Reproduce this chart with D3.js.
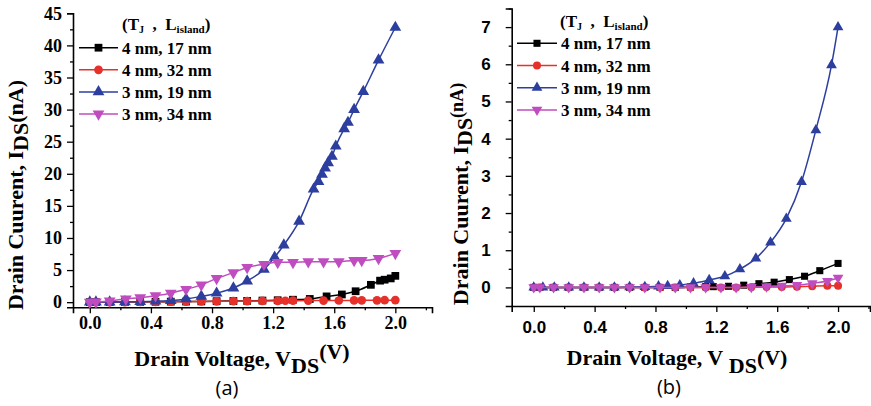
<!DOCTYPE html>
<html>
<head>
<meta charset="utf-8">
<script src="https://d3js.org/d3.v7.min.js"></script>
<style>
    body { margin: 0; background: #fff; }
    svg { display: block; }
    .serif { font-family: "Liberation Serif", "Times New Roman", serif; font-weight: bold; }
    .sans { font-family: "Liberation Sans", Arial, sans-serif; font-weight: bold; }
    .panel-label { font-family: "Open Sans", "Noto Sans", sans-serif; font-size: 20px; }
</style>
</head>
<body>
<svg id="chart" width="871" height="406"></svg>
<script>
// legend / series info
const seriesNames = ['4 nm, 17 nm', '4 nm, 32 nm', '3 nm, 19 nm', '3 nm, 34 nm'];
const seriesColors = ['#000000', '#e6302a', '#2d3f9e', '#bf4dbf'];
const seriesSymbols = ['square', 'circle', 'triangle', 'triangleDown'];

// panel (a) data, V in volts, I in nA
const aBlackX = [0, 0.04, 0.13, 0.23, 0.33, 0.43, 0.53, 0.63, 0.73, 0.83, 0.94, 1.03, 1.13, 1.23, 1.33, 1.44, 1.55, 1.65, 1.74, 1.84, 1.90, 1.93, 1.97, 2.0];
const aBlackY = [0, 0, 0.02, 0.03, 0.05, 0.06, 0.08, 0.1, 0.12, 0.15, 0.18, 0.2, 0.25, 0.3, 0.38, 0.5, 0.9, 1.2, 1.7, 2.7, 3.35, 3.5, 3.7, 4.1];
const aRedX = [0, 0.04, 0.13, 0.23, 0.33, 0.43, 0.53, 0.63, 0.73, 0.83, 0.94, 1.03, 1.13, 1.23, 1.28, 1.33, 1.43, 1.53, 1.63, 1.73, 1.78, 1.88, 1.93, 2.0];
const aRedY = [0, 0, 0.01, 0.02, 0.03, 0.05, 0.07, 0.09, 0.11, 0.13, 0.15, 0.17, 0.19, 0.21, 0.22, 0.23, 0.24, 0.25, 0.26, 0.27, 0.28, 0.29, 0.3, 0.32];
const aBlueX = [0, 0.04, 0.13, 0.23, 0.33, 0.43, 0.53, 0.63, 0.73, 0.83, 0.94, 1.03, 1.14, 1.21, 1.27, 1.37, 1.465, 1.497, 1.52, 1.54, 1.56, 1.585, 1.61, 1.665, 1.69, 1.73, 1.79, 1.89, 2.0];
const aBlueY = [0, 0, 0.02, 0.05, 0.08, 0.15, 0.25, 0.5, 0.9, 1.4, 2.2, 3.3, 5.1, 7.0, 8.9, 12.6, 17.6, 18.8, 19.9, 20.9, 21.7, 22.7, 24.3, 27.0, 28.0, 30.0, 32.8, 37.7, 42.8];
const aMagX = [0, 0.04, 0.13, 0.236, 0.33, 0.43, 0.53, 0.63, 0.73, 0.83, 0.94, 1.03, 1.14, 1.23, 1.33, 1.43, 1.53, 1.63, 1.73, 1.78, 1.89, 2.0];
const aMagY = [0, 0.05, 0.2, 0.5, 0.7, 1.0, 1.4, 2.0, 2.7, 3.7, 4.6, 5.4, 5.9, 6.2, 6.2, 6.3, 6.3, 6.3, 6.5, 6.5, 6.8, 7.6];

// panel (b) data
const bBlackX = [0, 0.04, 0.13, 0.23, 0.33, 0.43, 0.53, 0.63, 0.73, 0.83, 0.93, 1.03, 1.13, 1.18, 1.28, 1.38, 1.48, 1.58, 1.68, 1.78, 1.88, 2.0];
const bBlackY = [0, 0, 0, 0, 0, 0, 0, 0, 0, 0, 0, 0.01, 0.02, 0.02, 0.03, 0.06, 0.10, 0.14, 0.21, 0.30, 0.45, 0.645];
const bRedX = [0, 0.04, 0.13, 0.23, 0.33, 0.43, 0.53, 0.63, 0.73, 0.83, 0.93, 1.03, 1.13, 1.23, 1.33, 1.43, 1.53, 1.63, 1.73, 1.83, 1.93, 2.0];
const bRedY = [0, 0, 0, 0, 0, 0, 0, 0, 0, 0, 0, 0, 0, 0, 0, 0.005, 0.01, 0.01, 0.02, 0.03, 0.045, 0.045];
const bBlueX = [0, 0.06, 0.135, 0.23, 0.33, 0.43, 0.53, 0.63, 0.73, 0.82, 0.88, 0.96, 1.05, 1.153, 1.256, 1.355, 1.46, 1.556, 1.66, 1.76, 1.854, 1.957, 2.0];
const bBlueY = [0, 0, 0, 0, 0, 0, 0, 0.01, 0.015, 0.03, 0.04, 0.06, 0.11, 0.20, 0.30, 0.49, 0.78, 1.21, 1.85, 2.84, 4.23, 5.98, 7.0];
const bMagX = [0, 0.04, 0.13, 0.23, 0.33, 0.43, 0.53, 0.63, 0.73, 0.83, 0.93, 1.03, 1.13, 1.23, 1.33, 1.43, 1.53, 1.63, 1.73, 1.83, 1.93, 2.0];
const bMagY = [0, 0, 0, 0, 0, 0, 0, 0, 0, 0, 0, 0, 0, 0, 0, 0.01, 0.02, 0.04, 0.06, 0.11, 0.17, 0.26];

// ticks
const xMajor = [0, 0.4, 0.8, 1.2, 1.6, 2.0];
const xMinor = [0.2, 0.6, 1.0, 1.4, 1.8, 2.2];
const aYMajor = [0, 5, 10, 15, 20, 25, 30, 35, 40, 45];
const aYMinor = [2.5, 7.5, 12.5, 17.5, 22.5, 27.5, 32.5, 37.5, 42.5];
const bYMajor = [0, 1, 2, 3, 4, 5, 6, 7];
const bYMinor = [0.5, 1.5, 2.5, 3.5, 4.5, 5.5, 6.5, 7.5];

const fonts = {
    serif: '"Liberation Serif", "Times New Roman", serif',
    sans: '"Liberation Sans", Arial, sans-serif'
};

const svg = d3.select('#chart');

function zip(xs, ys) {
    return xs.map((x, i) => ({x: x, y: ys[i]}));
}

function symbolFor(name, size) {
    const type = name === 'square' ? d3.symbolSquare
        : name === 'circle' ? d3.symbolCircle
        : d3.symbolTriangle;
    return d3.symbol().type(type).size(size)();
}

function drawPanel(cfg) {
    const x = d3.scaleLinear().domain(cfg.xDomain).range(cfg.xRange);
    const y = d3.scaleLinear().domain(cfg.yDomain).range(cfg.yRange);
    const g = svg.append('g');

    // x axis
    g.append('g')
        .attr('transform', `translate(0,${cfg.yRange[0]})`)
        .call(d3.axisBottom(x).tickValues(xMajor).tickFormat(d3.format('.1f'))
            .tickSize(6).tickPadding(cfg.xPad));
    g.append('g')
        .attr('transform', `translate(0,${cfg.yRange[0]})`)
        .call(d3.axisBottom(x).tickValues(xMinor).tickFormat('').tickSize(3))
        .call(s => s.select('.domain').remove());

    // y axis
    g.append('g')
        .attr('transform', `translate(${cfg.xRange[0]},0)`)
        .call(d3.axisLeft(y).tickValues(cfg.yMajor).tickSize(6).tickPadding(cfg.yPad));
    g.append('g')
        .attr('transform', `translate(${cfg.xRange[0]},0)`)
        .call(d3.axisLeft(y).tickValues(cfg.yMinor).tickFormat('').tickSize(3))
        .call(s => s.select('.domain').remove());

    g.selectAll('.domain').attr('stroke', '#000').attr('stroke-width', 1.6);
    g.selectAll('.tick line').attr('stroke', '#000').attr('stroke-width', 1.3);
    g.selectAll('.tick text')
        .style('font-family', fonts[cfg.tickFamily])
        .style('font-weight', 'bold')
        .style('font-size', cfg.tickFont + 'px')
        .attr('fill', '#000');

    // series
    const line = d3.line().x(d => x(d.x)).y(d => y(d.y)).curve(d3.curveMonotoneX);
    cfg.series.forEach((s, i) => {
        const pts = zip(s[0], s[1]);
        g.append('path')
            .datum(pts)
            .attr('d', line)
            .attr('fill', 'none')
            .attr('stroke', seriesColors[i])
            .attr('stroke-width', 1.5);
        g.selectAll('.m' + i)
            .data(pts)
            .enter()
            .append('path')
            .attr('class', 'm' + i)
            .attr('d', symbolFor(seriesSymbols[i], cfg.markerSize))
            .attr('transform', d => `translate(${x(d.x)},${y(d.y)})` + (seriesSymbols[i] === 'triangleDown' ? ' rotate(180)' : ''))
            .attr('fill', seriesColors[i]);
    });

    // legend
    const lg = g.append('g').attr('class', 'serif').style('font-size', '17px');
    const title = lg.append('text').attr('x', cfg.legend.tx).attr('y', cfg.legend.ty);
    title.append('tspan').text('(T');
    title.append('tspan').text('J').style('font-size', '10px').attr('dy', 3);
    title.append('tspan').text('\u00a0\u00a0,\u00a0\u00a0L').attr('dy', -3);
    title.append('tspan').text('island').style('font-size', '11px').attr('dy', 3);
    title.append('tspan').text(')').attr('dy', -3);

    seriesNames.forEach((name, i) => {
        const cy = cfg.legend.y0 + i * cfg.legend.dy;
        lg.append('line')
            .attr('x1', cfg.legend.x1).attr('x2', cfg.legend.x2)
            .attr('y1', cy).attr('y2', cy)
            .attr('stroke', seriesColors[i]).attr('stroke-width', 1.5);
        lg.append('path')
            .attr('d', symbolFor(seriesSymbols[i], cfg.markerSize))
            .attr('transform', `translate(${(cfg.legend.x1 + cfg.legend.x2) / 2},${cy})` + (seriesSymbols[i] === 'triangleDown' ? ' rotate(180)' : ''))
            .attr('fill', seriesColors[i]);
        lg.append('text')
            .attr('x', cfg.legend.x2 + 4)
            .attr('y', cy + 6)
            .text(name);
    });

    // axis titles
    const xt = g.append('text').attr('class', 'serif')
        .attr('x', cfg.xTitle.x).attr('y', cfg.xTitle.y)
        .attr('text-anchor', 'middle')
        .style('font-size', '22px');
    xt.append('tspan').text(cfg.xTitle.pre);
    xt.append('tspan').text('DS').attr('dy', cfg.xTitle.sub);
    xt.append('tspan').text('(V)').attr('dy', -cfg.xTitle.sub + cfg.xTitle.after);

    const yt = g.append('text').attr('class', 'serif')
        .attr('transform', `translate(${cfg.yTitle.x},${cfg.yTitle.y}) rotate(-90)`)
        .attr('text-anchor', 'middle')
        .style('font-size', '22px');
    yt.append('tspan').text('Drain Cuurent, I');
    yt.append('tspan').text('DS').attr('dy', cfg.yTitle.sub);
    yt.append('tspan').text('(nA)').attr('dy', cfg.yTitle.after)
        .style('font-size', cfg.yTitle.unitFont + 'px');

    svg.append('text').attr('class', 'panel-label')
        .attr('x', cfg.label.x).attr('y', cfg.label.y)
        .attr('text-anchor', 'middle')
        .text(cfg.label.text);
}

drawPanel({
    xDomain: [-0.11, 2.24], xRange: [73, 432],
    yDomain: [-0.8, 45], yRange: [307.3, 13.3],
    yMajor: aYMajor, yMinor: aYMinor,
    xPad: 3, yPad: 5,
    tickFamily: 'serif', tickFont: 18,
    markerSize: 60,
    series: [[aBlackX, aBlackY], [aRedX, aRedY], [aBlueX, aBlueY], [aMagX, aMagY]],
    legend: {tx: 122, ty: 30, x1: 79, x2: 118, y0: 47.7, dy: 22.1},
    xTitle: {x: 242, y: 366, pre: 'Drain Voltage, V', sub: 7, after: -7},
    yTitle: {x: 23, y: 195, sub: 5, after: -5, unitFont: 22},
    label: {x: 227, y: 395, text: '(a)'}
});

drawPanel({
    xDomain: [-0.145, 2.21], xRange: [511.7, 870],
    yDomain: [-0.5, 7.5], yRange: [306, 8.5],
    yMajor: bYMajor, yMinor: bYMinor,
    xPad: 9, yPad: 15,
    tickFamily: 'sans', tickFont: 17,
    markerSize: 50,
    series: [[bBlackX, bBlackY], [bRedX, bRedY], [bBlueX, bBlueY], [bMagX, bMagY]],
    legend: {tx: 560, ty: 27, x1: 517, x2: 557, y0: 43.3, dy: 22.2},
    xTitle: {x: 677, y: 365, pre: 'Drain Voltage, V\u00a0', sub: 8, after: 0},
    yTitle: {x: 468, y: 194, sub: 4, after: -9, unitFont: 18},
    label: {x: 669, y: 394, text: '(b)'}
});
</script>
</body>
</html>
